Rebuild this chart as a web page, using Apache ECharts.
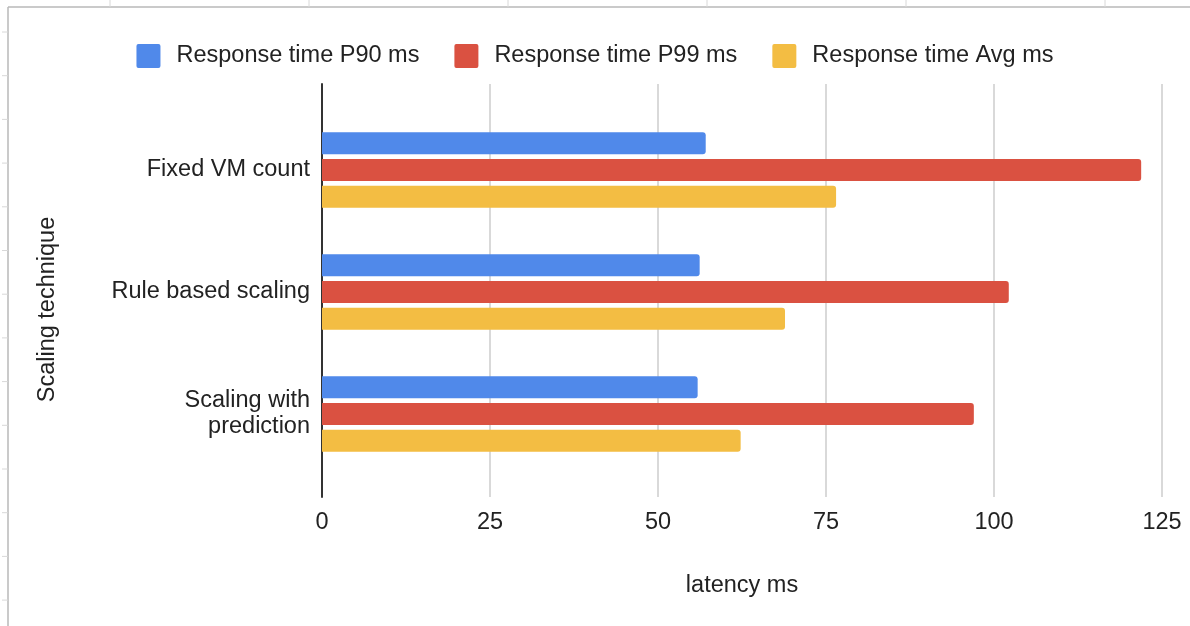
<!DOCTYPE html>
<html>
<head>
<meta charset="utf-8">
<script src="https://cdn.jsdelivr.net/npm/echarts@6/dist/echarts.min.js"></script>
<style>
  html, body { margin: 0; padding: 0; background: #fff; }
  #chart { width: 1190px; height: 626px; }
</style>
</head>
<body>
<div id="chart"></div>
<script>
  var categories = ['Fixed VM count', 'Rule based scaling', 'Scaling with\nprediction'];
  var seriesNames = ['Response time P90 ms', 'Response time P99 ms', 'Response time Avg ms'];
  var p90 = [57.1, 56.2, 55.9];
  var p99 = [121.9, 102.2, 97.0];
  var avg = [76.5, 68.9, 62.3];
  var xTicks = [0, 25, 50, 75, 100, 125];

  var colors = ['#5089ea', '#da5141', '#f3bd43'];
  var font = "'Liberation Sans', Arial, sans-serif";
  var fs = 23.5;

  function bar(name, data) {
    return {
      name: name,
      type: 'bar',
      xAxisIndex: 1,
      yAxisIndex: 1,
      data: data,
      barWidth: 22,
      barGap: '22%',
      itemStyle: { borderRadius: [0, 3, 3, 0] }
    };
  }

  // faint spreadsheet frame around the chart
  var frame = [
    { type: 'line', shape: { x1: 8, y1: 7, x2: 8, y2: 626 }, style: { stroke: '#b8b8b8', lineWidth: 1.5 } },
    { type: 'line', shape: { x1: 8, y1: 7, x2: 1190, y2: 7 }, style: { stroke: '#b8b8b8', lineWidth: 1.5 } }
  ];
  for (var i = 0; i < 14; i++) {
    var y = 32 + i * 43.7;
    frame.push({ type: 'line', shape: { x1: 2, y1: y, x2: 8, y2: y }, style: { stroke: '#d8d8d8', lineWidth: 1 } });
  }
  for (var j = 0; j < 6; j++) {
    var x = 110 + j * 199;
    frame.push({ type: 'line', shape: { x1: x, y1: 0, x2: x, y2: 7 }, style: { stroke: '#d8d8d8', lineWidth: 1 } });
  }

  var chart = echarts.init(document.getElementById('chart'));
  chart.setOption({
    animation: false,
    color: colors,
    textStyle: { fontFamily: font },
    legend: {
      top: 39,
      left: 'center',
      icon: 'path://M2,0H22A2,2,0,0,1,24,2V22A2,2,0,0,1,22,24H2A2,2,0,0,1,0,22V2A2,2,0,0,1,2,0Z',
      itemWidth: 24,
      itemHeight: 24,
      itemGap: 35,
      textStyle: { fontSize: fs, color: '#222', padding: [0, 0, 0, 11], fontFamily: font },
      data: seriesNames
    },
    grid: [
      { left: 322, right: 28, top: 84, bottom: 129 },
      { left: 322, right: 28, top: 109, bottom: 151 }
    ],
    xAxis: [
      {
        gridIndex: 0,
        type: 'value',
        min: xTicks[0],
        max: xTicks[xTicks.length - 1],
        interval: 25,
        name: 'latency ms',
        nameLocation: 'middle',
        nameGap: 77,
        nameTextStyle: { fontSize: fs, color: '#222', fontFamily: font },
        axisLine: { show: false },
        axisTick: { show: false },
        axisLabel: { fontSize: fs, color: '#222', margin: 14, fontFamily: font },
        splitLine: { lineStyle: { color: '#cccccc', width: 1.5 } }
      },
      {
        gridIndex: 1,
        type: 'value',
        min: xTicks[0],
        max: xTicks[xTicks.length - 1],
        show: false
      }
    ],
    yAxis: [
      {
        gridIndex: 0,
        type: 'category',
        data: categories,
        inverse: true,
        name: 'Scaling technique',
        nameLocation: 'middle',
        nameGap: 262,
        nameRotate: 90,
        nameTextStyle: { fontSize: fs, color: '#222', fontFamily: font, padding: [0, 38, 0, 0] },
        axisLine: { lineStyle: { color: '#333', width: 2 } },
        axisTick: { show: false },
        axisLabel: { show: false },
        splitLine: { show: false }
      },
      {
        gridIndex: 1,
        type: 'category',
        data: categories,
        inverse: true,
        axisLine: { show: false },
        axisTick: { show: false },
        axisLabel: { fontSize: fs, color: '#222', margin: 12, lineHeight: 26, align: 'right', fontFamily: font },
        splitLine: { show: false }
      }
    ],
    graphic: frame,
    series: [
      bar(seriesNames[0], p90),
      bar(seriesNames[1], p99),
      bar(seriesNames[2], avg)
    ]
  });
</script>
</body>
</html>
